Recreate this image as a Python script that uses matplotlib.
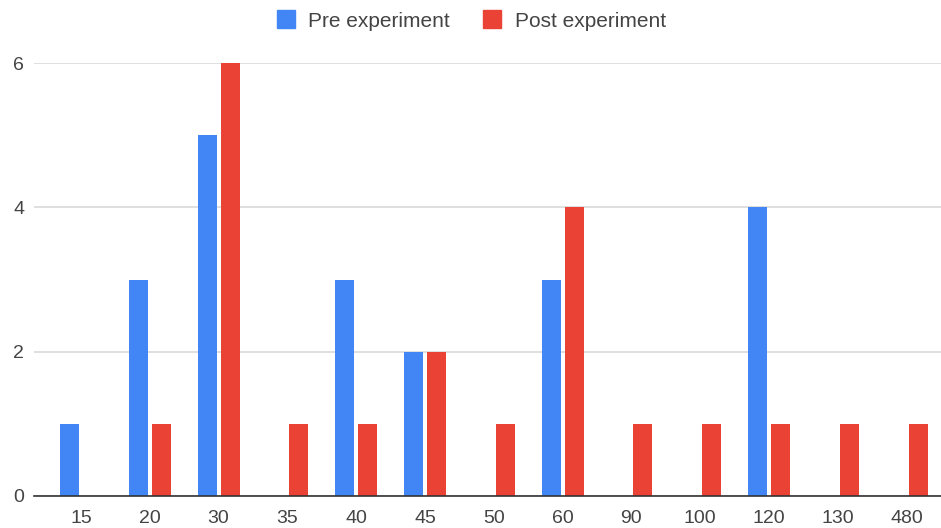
import matplotlib
matplotlib.use("Agg")
import matplotlib.pyplot as plt
from matplotlib.lines import Line2D
import numpy as np

categories = ["15", "20", "30", "35", "40", "45", "50", "60", "90", "100", "120", "130", "480"]
pre_experiment = [1, 3, 5, 0, 3, 2, 0, 3, 0, 0, 4, 0, 0]
post_experiment = [0, 1, 6, 1, 1, 2, 1, 4, 1, 1, 1, 1, 1]
y_ticks = [0, 2, 4, 6]

BLUE = "#4285F4"
RED = "#EA4335"
TEXT = "#444444"

plt.rcParams["font.family"] = ["Liberation Sans", "DejaVu Sans"]

W, H = 941, 528
fig = plt.figure(figsize=(W / 100, H / 100), dpi=100)
ax = fig.add_axes([34 / W, 32 / H, (W - 34) / W, 433 / H])

x = np.arange(len(categories))
bw = 0.276
off = 0.167
ax.bar(x - off, pre_experiment, width=bw, color=BLUE, zorder=3, clip_on=False)
ax.bar(x + off, post_experiment, width=bw, color=RED, zorder=3, clip_on=False)

ax.set_xlim(-0.683, 12.5)
ax.set_ylim(0, 6)
ax.set_yticks(y_ticks)
ax.set_xticks(x)
ax.set_xticklabels(categories)
ax.tick_params(axis="both", length=0, labelsize=14, labelcolor=TEXT)
ax.tick_params(axis="y", pad=7)
ax.tick_params(axis="x", pad=10)

ax.yaxis.grid(True, color="#d9d9d9", linewidth=1.2, zorder=0)
ax.set_axisbelow(True)
for s in ["top", "right", "left"]:
    ax.spines[s].set_visible(False)
ax.spines["bottom"].set_color("#333333")
ax.spines["bottom"].set_linewidth(1.2)
ax.spines["bottom"].set_zorder(4)

handles = [
    Line2D([], [], marker="s", linestyle="none", markersize=13, color=BLUE),
    Line2D([], [], marker="s", linestyle="none", markersize=13, color=RED),
]
fig.legend(handles, ["Pre experiment", "Post experiment"], loc="center",
           bbox_to_anchor=(0.5, 1 - 21 / H), ncol=2, frameon=False,
           fontsize=15, labelcolor=TEXT, handletextpad=0.6, columnspacing=1.5,
           handlelength=1.0)

fig.savefig("out.png", dpi=100)
